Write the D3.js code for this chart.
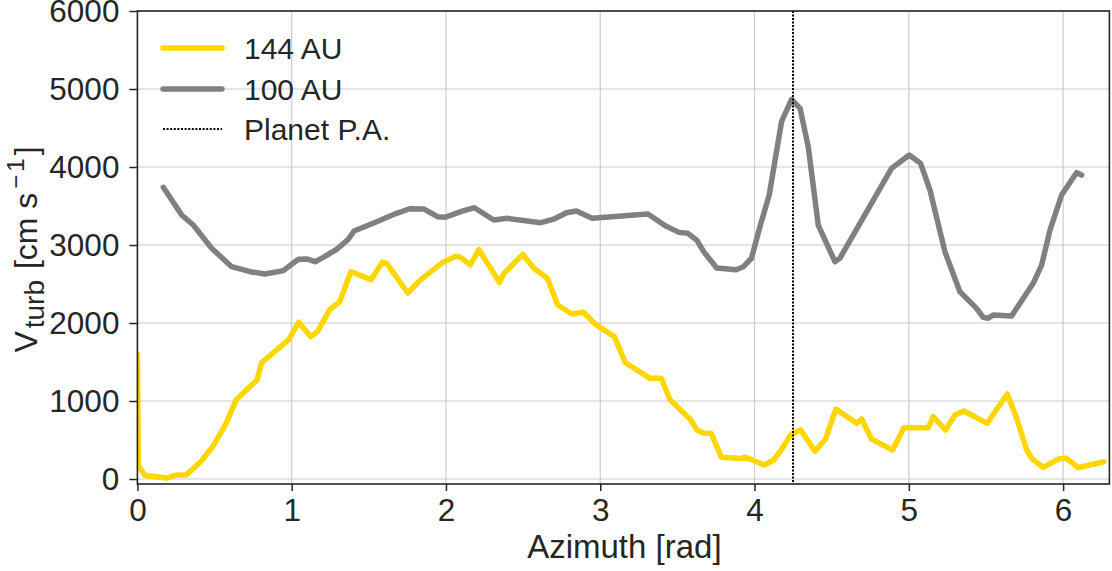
<!DOCTYPE html>
<html>
<head>
<meta charset="utf-8">
<script src="https://cdn.jsdelivr.net/npm/d3@7"></script>
<style>
  html, body { margin: 0; padding: 0; background: #ffffff; }
  svg { display: block; font-family: "Liberation Sans", Arial, Helvetica, sans-serif; }
</style>
</head>
<body>
<svg id="chart" width="1112" height="571"></svg>
<script>
// Turbulent velocity vs azimuth at two radii
const azimuth144 = [0.0, 0.006, 0.05, 0.19, 0.25, 0.315, 0.41, 0.49, 0.575, 0.64, 0.775, 0.805, 0.979, 1.046, 1.124, 1.167, 1.248, 1.312, 1.384, 1.514, 1.587, 1.616, 1.752, 1.833, 1.977, 2.064, 2.093, 2.157, 2.214, 2.347, 2.376, 2.498, 2.570, 2.657, 2.724, 2.817, 2.889, 2.975, 3.091, 3.163, 3.323, 3.395, 3.453, 3.583, 3.627, 3.670, 3.719, 3.786, 3.908, 3.940, 4.064, 4.125, 4.188, 4.235, 4.298, 4.392, 4.460, 4.527, 4.662, 4.694, 4.759, 4.895, 4.968, 5.126, 5.158, 5.238, 5.299, 5.357, 5.508, 5.638, 5.699, 5.764, 5.796, 5.871, 5.968, 6.022, 6.098, 6.238, 6.264];
const vturb144 = [1600, 170, 45, 12, 50, 50, 222, 420, 714, 1015, 1269, 1491, 1782, 2010, 1825, 1889, 2175, 2274, 2660, 2555, 2780, 2765, 2385, 2550, 2775, 2855, 2845, 2744, 2940, 2520, 2637, 2880, 2701, 2573, 2231, 2115, 2140, 1974, 1825, 1491, 1291, 1291, 1013, 765, 628, 590, 585, 278, 262, 280, 179, 244, 414, 570, 630, 355, 510, 897, 714, 769, 509, 372, 658, 658, 799, 628, 821, 872, 714, 1090, 778, 372, 265, 150, 256, 265, 145, 209, 222];

const azimuth100 = [0.168, 0.287, 0.362, 0.481, 0.611, 0.730, 0.827, 0.946, 1.043, 1.097, 1.151, 1.205, 1.291, 1.367, 1.404, 1.551, 1.680, 1.765, 1.858, 1.945, 1.993, 2.100, 2.184, 2.310, 2.397, 2.614, 2.700, 2.782, 2.845, 2.947, 3.309, 3.424, 3.511, 3.568, 3.627, 3.670, 3.755, 3.880, 3.928, 3.980, 4.035, 4.095, 4.175, 4.240, 4.295, 4.348, 4.413, 4.521, 4.553, 4.888, 5.003, 5.076, 5.137, 5.234, 5.331, 5.439, 5.482, 5.514, 5.547, 5.666, 5.806, 5.861, 5.915, 5.990, 6.087, 6.120];
const vturb100 = [3740, 3385, 3256, 2958, 2722, 2658, 2628, 2671, 2817, 2821, 2786, 2842, 2944, 3073, 3179, 3299, 3406, 3465, 3460, 3363, 3355, 3430, 3478, 3321, 3342, 3286, 3333, 3414, 3436, 3342, 3397, 3244, 3162, 3150, 3060, 2915, 2705, 2683, 2722, 2830, 3235, 3641, 4581, 4868, 4752, 4260, 3256, 2786, 2829, 3983, 4154, 4047, 3705, 2914, 2401, 2188, 2073, 2060, 2103, 2090, 2509, 2744, 3192, 3641, 3927, 3897];

const planetPA = 4.25;

const xTicks = [0, 1, 2, 3, 4, 5, 6];
const yTicks = [0, 1000, 2000, 3000, 4000, 5000, 6000];

const seriesNames = ["144 AU", "100 AU", "Planet P.A."];
const seriesColors = ["#ffd700", "#808080", "#000000"];

const ink = "#262626";
const svg = d3.select("#chart");

const plot = { left: 137.4, right: 1109.4, top: 11, bottom: 484 };

const x = d3.scaleLinear().domain([0, 6.3]).range([plot.left, plot.right]);
const y = d3.scaleLinear().domain([-64, 6000]).range([plot.bottom, plot.top]);

// grid
const grid = svg.append("g");
grid.selectAll("line.gx").data(xTicks.filter(d => d > 0)).join("line")
  .attr("x1", d => x(d)).attr("x2", d => x(d))
  .attr("y1", plot.top).attr("y2", plot.bottom)
  .attr("stroke", "#cccccc").attr("stroke-width", 1.2);
grid.selectAll("line.gy").data(yTicks).join("line")
  .attr("x1", plot.left).attr("x2", plot.right)
  .attr("y1", d => y(d)).attr("y2", d => y(d))
  .attr("stroke", "#cccccc").attr("stroke-width", 1.2);

// clip region for data
svg.append("clipPath").attr("id", "plotclip").append("rect")
  .attr("x", plot.left).attr("y", plot.top)
  .attr("width", plot.right - plot.left).attr("height", plot.bottom - plot.top);

const line = d3.line().x(d => x(d[0])).y(d => y(d[1]));
const data144 = azimuth144.map((a, i) => [a, vturb144[i]]);
const data100 = azimuth100.map((a, i) => [a, vturb100[i]]);

const lines = svg.append("g").attr("clip-path", "url(#plotclip)");
lines.append("path").datum(data144).attr("d", line)
  .attr("fill", "none").attr("stroke", seriesColors[0]).attr("stroke-width", 5.5)
  .attr("stroke-linejoin", "round").attr("stroke-linecap", "round");
lines.append("path").datum(data100).attr("d", line)
  .attr("fill", "none").attr("stroke", seriesColors[1]).attr("stroke-width", 5.5)
  .attr("stroke-linejoin", "round").attr("stroke-linecap", "round");

// planet position angle
const px = Math.round(x(planetPA));
svg.append("line")
  .attr("x1", px).attr("x2", px)
  .attr("y1", plot.top).attr("y2", plot.bottom)
  .attr("stroke", seriesColors[2]).attr("stroke-width", 2)
  .attr("stroke-dasharray", "2,1.5");

// frame
svg.append("rect")
  .attr("x", plot.left).attr("y", plot.top)
  .attr("width", plot.right - plot.left).attr("height", plot.bottom - plot.top)
  .attr("fill", "none").attr("stroke", ink).attr("stroke-width", 1.6);

// axes
const xAxis = svg.append("g").attr("transform", `translate(0,${plot.bottom})`)
  .call(d3.axisBottom(x).tickValues(xTicks).tickFormat(d3.format("d")).tickSizeOuter(0).tickSize(7).tickPadding(8));
const yAxis = svg.append("g").attr("transform", `translate(${plot.left},0)`)
  .call(d3.axisLeft(y).tickValues(yTicks).tickFormat(d3.format("d")).tickSizeOuter(0).tickSize(8).tickPadding(10));

[xAxis, yAxis].forEach(g => {
  g.select(".domain").remove();
  g.selectAll(".tick line").attr("stroke", ink).attr("stroke-width", 1.5);
  g.selectAll(".tick text").attr("fill", ink).style("font-size", "31.5px")
    .style("font-family", '"Liberation Sans", Arial, sans-serif');
});

// axis titles
svg.append("text")
  .attr("x", (plot.left + plot.right) / 2 + 1).attr("y", 558)
  .attr("text-anchor", "middle").attr("fill", ink)
  .style("font-size", "33px").text("Azimuth [rad]");

const yl = svg.append("text")
  .attr("transform", `translate(37,${(plot.top + plot.bottom) / 2 + 2}) rotate(-90)`)
  .attr("text-anchor", "middle").attr("fill", ink)
  .style("font-size", "32px");
yl.append("tspan").text("V");
yl.append("tspan").attr("dx", 3).attr("dy", 7).style("font-size", "28px").text("turb");
yl.append("tspan").attr("dx", 2).attr("dy", -7).text(" [cm s");
yl.append("tspan").attr("dx", 4).attr("dy", -13).style("font-size", "24px").text("\u2212");
yl.append("tspan").attr("dx", 3).style("font-size", "24px").text("1");
yl.append("tspan").attr("dx", 3).attr("dy", 13).text("]");

// legend
const legendRows = [
  { name: seriesNames[0], color: seriesColors[0], dash: null, width: 5.5, y: 48 },
  { name: seriesNames[1], color: seriesColors[1], dash: null, width: 5.5, y: 89 },
  { name: seriesNames[2], color: seriesColors[2], dash: "2,1.6", width: 2, y: 129 }
];
const legend = svg.append("g");
legendRows.forEach(r => {
  legend.append("line")
    .attr("x1", 163).attr("x2", 222).attr("y1", r.y).attr("y2", r.y)
    .attr("stroke", r.color).attr("stroke-width", r.width)
    .attr("stroke-linecap", r.dash ? "butt" : "round")
    .attr("stroke-dasharray", r.dash);
  legend.append("text")
    .attr("x", 244).attr("y", r.y + 10.5)
    .attr("fill", ink).style("font-size", "30px").text(r.name);
});
</script>
</body>
</html>
